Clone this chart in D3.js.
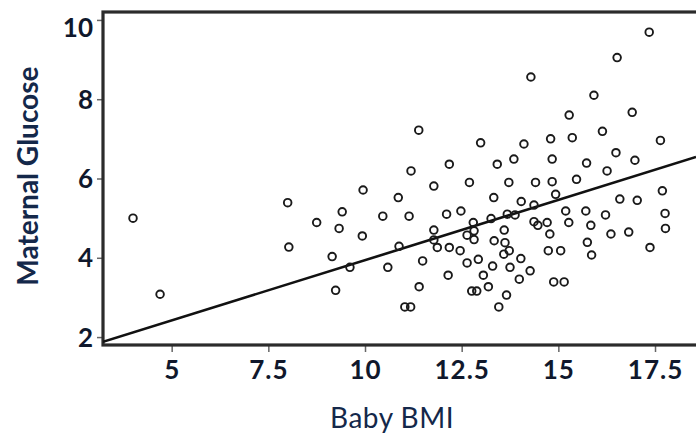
<!DOCTYPE html>
<html>
<head>
<meta charset="utf-8">
<script src="https://cdn.jsdelivr.net/npm/d3@7"></script>
<style>
  body { margin: 0; background: #fff; }
</style>
</head>
<body>
<div id="chartid"></div>
<script>
"use strict"

// values (Baby BMI vs Maternal Glucose)
var bmi = [4.00, 4.70, 8.00, 8.03, 8.75, 9.41, 9.33, 9.95, 9.93, 10.46,
  9.15, 9.61, 10.59, 9.24, 17.35, 16.52, 14.29, 15.92, 15.28, 16.91,
  11.39, 12.99, 14.11, 14.80, 15.36, 16.14, 17.64, 11.19, 12.18, 13.42,
  13.85, 14.84, 15.73, 16.49, 16.98, 16.26, 11.78, 12.70, 13.72, 14.41,
  14.84, 15.47, 17.69, 10.86, 13.33, 14.04, 14.93, 16.59, 17.04, 14.37,
  11.14, 12.11, 12.48, 12.80, 13.26, 13.68, 13.88, 14.37, 14.71, 15.19,
  15.71, 16.22, 15.84, 15.27, 17.76, 17.77, 16.36, 16.82, 17.37, 15.75,
  15.86, 14.78, 14.47, 14.74, 15.06, 14.88, 15.15, 14.27, 13.99, 14.03,
  13.75, 13.73, 13.59, 13.62, 13.34, 13.60, 13.30, 13.06, 13.19, 13.66,
  13.46, 12.93, 12.64, 12.89, 12.76, 12.82, 12.82, 12.64, 12.46, 12.18,
  11.87, 11.78, 11.78, 10.88, 11.49, 12.15, 11.40, 11.03, 11.18];
var glucose = [5.00, 3.08, 5.39, 4.27, 4.89, 5.16, 4.74, 5.71, 4.55, 5.05,
  4.03, 3.76, 3.76, 3.18, 9.69, 9.05, 8.56, 8.10, 7.60, 7.67,
  7.22, 6.90, 6.87, 7.00, 7.03, 7.19, 6.96, 6.19, 6.36, 6.36,
  6.49, 6.49, 6.39, 6.65, 6.46, 6.19, 5.81, 5.90, 5.90, 5.90,
  5.92, 5.98, 5.69, 5.52, 5.52, 5.42, 5.60, 5.48, 5.45, 5.33,
  5.05, 5.10, 5.18, 4.89, 4.99, 5.10, 5.08, 4.91, 4.89, 5.18,
  5.18, 5.08, 4.82, 4.89, 5.12, 4.74, 4.60, 4.65, 4.26, 4.39,
  4.07, 4.60, 4.82, 4.18, 4.18, 3.39, 3.39, 3.67, 3.46, 3.98,
  3.76, 4.18, 4.09, 4.38, 4.43, 4.70, 3.79, 3.56, 3.27, 3.06,
  2.76, 3.96, 3.87, 3.16, 3.16, 4.68, 4.46, 4.57, 4.18, 4.26,
  4.26, 4.70, 4.45, 4.29, 3.92, 3.56, 3.27, 2.76, 2.76];
var xTicks = [5, 7.5, 10, 12.5, 15, 17.5];
var yTicks = [2, 4, 6, 8, 10];
// fit line: glucose = a + b * bmi
var fitIntercept = 0.90, fitSlope = 0.304;

function createChart(){
  var svg = d3.select("#chartid").append("svg")
  .attr("width", 696)
  .attr("height", 437),
  margin = { top: 12, right: 0, bottom: 92, left: 103 },
  width = +svg.attr("width") - margin.left - margin.right,
  height = +svg.attr("height") - margin.top - margin.bottom;

  var font = "Lato, 'Open Sans', sans-serif";

  var scale_x = d3.scaleLinear()
  .domain([3.224, 18.56])
  .range([0, width]);

  var scale_y = d3.scaleLinear()
  .domain([1.8, 10.2])
  .range([height, 0]);

  var g = svg.append("g")
  .attr("transform", "translate(" + margin.left + "," + margin.top + ")");

  g.append("clipPath").attr("id", "plotclip")
  .append("rect")
  .attr("x", 0).attr("y", 0)
  .attr("width", width).attr("height", height);

  // y axis
  var y_axis = d3.axisLeft(scale_y).tickValues(yTicks).tickSize(6).tickPadding(4);
  var yg = g.append("g").call(y_axis);
  yg.select(".domain").remove();
  yg.selectAll(".tick line").attr("stroke", "#666").attr("stroke-width", 1.5);
  yg.selectAll(".tick text")
  .attr("fill", "#10182c")
  .style("font-family", font)
  .style("font-weight", "bold")
  .style("font-size", "26px")
  .attr("dy", function(d){ return d === 10 ? "0.62em" : "0.35em"; });

  // x axis
  var x_axis = d3.axisBottom(scale_x).tickValues(xTicks).tickSize(7).tickPadding(9)
  .tickFormat(function(d){ return String(d); });
  var xg = g.append("g").attr("transform", "translate(0," + height + ")").call(x_axis);
  xg.select(".domain").remove();
  xg.selectAll(".tick line").attr("stroke", "#666").attr("stroke-width", 1.5);
  xg.selectAll(".tick text")
  .attr("fill", "#10182c")
  .style("font-family", font)
  .style("font-weight", "bold")
  .style("font-size", "26px")
  .style("letter-spacing", "1px");

  // frame (right side runs off the picture)
  g.append("rect")
  .attr("x", 0).attr("y", 0)
  .attr("width", width + 10).attr("height", height)
  .attr("fill", "none")
  .attr("stroke", "#2b2b2b")
  .attr("stroke-width", 3.2);

  var plot = g.append("g").attr("clip-path", "url(#plotclip)");

  // fit line
  var ends = scale_x.domain();
  plot.append("path")
  .datum(ends)
  .attr("fill", "none")
  .attr("stroke", "#111")
  .attr("stroke-width", 2.6)
  .attr("d", d3.line()
  .x(function(d){ return scale_x(d) })
  .y(function(d){ return scale_y(fitIntercept + fitSlope * d) }));

  // points
  var pts = bmi.map(function(b, i){ return { x: b, y: glucose[i] }; });
  plot.selectAll("circle")
  .data(pts)
  .enter().append("circle")
  .attr("cx", function(d){ return scale_x(d.x) })
  .attr("cy", function(d){ return scale_y(d.y) })
  .attr("r", 3.8)
  .attr("fill", "none")
  .attr("stroke", "#1a1a1a")
  .attr("stroke-width", 1.9);

  // axis titles
  svg.append("text")
  .attr("x", margin.left + scale_x(10.7))
  .attr("y", 428)
  .attr("text-anchor", "middle")
  .attr("fill", "#14284a")
  .style("font-family", font)
  .style("font-size", "28px")
  .style("letter-spacing", "0.5px")
  .text("Baby BMI");

  svg.append("text")
  .attr("transform", "translate(38," + (margin.top + scale_y(6.06)) + ") rotate(-90)")
  .attr("text-anchor", "middle")
  .attr("fill", "#14284a")
  .style("font-family", font)
  .style("font-weight", "bold")
  .style("font-size", "28px")
  .text("Maternal Glucose");
}

createChart();
</script>
</body>
</html>
